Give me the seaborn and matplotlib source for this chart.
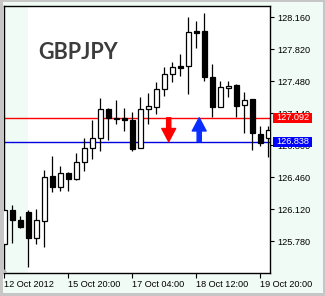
import numpy as np
import pandas as pd
import matplotlib
matplotlib.use("Agg")
import matplotlib.pyplot as plt
from matplotlib.patches import Rectangle, Polygon
import seaborn as sns

# ---- data (4h candles, GBPJPY) ----
opens = [125.751, 126.112, 126.006, 126.091, 125.811, 125.999, 126.473, 126.360, 126.505, 126.445,
         126.622, 126.768, 126.874, 127.185, 127.093, 127.093, 127.069, 126.768, 127.182, 127.207,
         127.395, 127.557, 127.642, 127.642, 128.014, 128.014, 127.522, 127.210, 127.405, 127.436,
         127.225, 127.289, 126.917, 126.879]
highs = [126.125, 126.165, 126.052, 126.112, 126.123, 126.537, 126.686, 126.580, 126.519, 126.715,
         126.874, 127.069, 127.299, 127.196, 127.281, 127.196, 127.150, 127.310, 127.356, 127.472,
         127.635, 127.688, 127.770, 128.160, 128.121, 128.206, 127.661, 127.483, 127.483, 127.454,
         127.361, 127.295, 127.000, 127.005]
lows = [125.740, 125.765, 125.924, 125.503, 125.751, 125.722, 126.307, 126.317, 126.317, 126.431,
        126.530, 126.654, 126.742, 126.856, 127.023, 126.952, 126.734, 126.766, 127.026, 127.132,
        127.324, 127.476, 127.533, 127.342, 127.831, 127.486, 127.097, 127.204, 127.316, 127.100,
        126.927, 126.750, 126.792, 126.675]
closes = [126.112, 126.006, 125.935, 125.818, 126.006, 126.460, 126.360, 126.502, 126.445, 126.622,
          126.768, 126.874, 127.182, 127.087, 127.079, 127.069, 126.760, 127.183, 127.212, 127.395,
          127.557, 127.629, 127.624, 128.001, 127.996, 127.529, 127.210, 127.416, 127.432, 127.221,
          127.278, 126.927, 126.821, 126.962]

symbol = "GBPJPY"
level_red = 127.092
level_blue = 126.838
y_ticks = [125.780, 126.120, 126.460, 126.800, 127.140, 127.480, 127.820, 128.160]
x_tick_pos = [0, 8, 16, 24, 32]
x_tick_labels = ["12 Oct 2012", "15 Oct 20:00", "17 Oct 04:00", "18 Oct 12:00", "19 Oct 20:00"]
arrow_down_x = 20.55
arrow_up_x = 24.36

df = pd.DataFrame({"i": np.arange(len(opens)), "open": opens, "high": highs,
                   "low": lows, "close": closes})

sns.set_style("white")
plt.rcParams["font.family"] = ["Liberation Sans", "DejaVu Sans"]

BG = "#f1fbf5"
fig = plt.figure(figsize=(3.25, 2.96), dpi=100, facecolor=BG)
W, H = 325.0, 296.0
ax = fig.add_axes([4 / W, 1 - 273.3 / H, 266 / W, 267.8 / H])
ax.set_facecolor("white")

xlim = (-0.0375, 33.21)
ylim = (125.4395, 128.285)

# weekend shaded strip on the left
ax.axvspan(xlim[0], 2.925, color=BG, lw=0, zorder=0)

# horizontal levels (seaborn lines)
lv = pd.DataFrame({"x": [xlim[0], xlim[1]] * 2,
                   "y": [level_red, level_red, level_blue, level_blue],
                   "lvl": ["r", "r", "b", "b"]})
sns.lineplot(data=lv, x="x", y="y", hue="lvl", palette={"r": "#ff0000", "b": "#0000e0"},
             ax=ax, legend=False, lw=1.0, zorder=1)

# candles
up = df["close"] >= df["open"]
ax.vlines(df["i"], df["low"], df["high"], color="black", lw=0.9, zorder=2)
bot = np.minimum(df["open"], df["close"])
hgt = np.maximum(np.abs(df["close"] - df["open"]), 0.012)
ax.bar(df["i"][up], hgt[up], bottom=bot[up], width=0.6, facecolor="white",
       edgecolor="black", lw=0.9, zorder=3)
ax.bar(df["i"][~up], hgt[~up], bottom=bot[~up], width=0.6, facecolor="black",
       edgecolor="black", lw=0.9, zorder=3)

# arrows
ax.annotate("", xy=(arrow_down_x, level_blue), xytext=(arrow_down_x, level_red),
            arrowprops=dict(arrowstyle="simple,head_length=0.95,head_width=1.0,tail_width=0.3",
                            color="#ff0000", shrinkA=0, shrinkB=0, mutation_scale=10), zorder=5)
ax.annotate("", xy=(arrow_up_x, level_red), xytext=(arrow_up_x, level_blue),
            arrowprops=dict(arrowstyle="simple,head_length=0.95,head_width=1.0,tail_width=0.3",
                            color="#0a2eff", shrinkA=0, shrinkB=0, mutation_scale=10), zorder=5)

ax.set_xlim(*xlim)
ax.set_ylim(*ylim)

# axes styling
for s in ax.spines.values():
    s.set_color("black")
    s.set_linewidth(1.0)
ax.yaxis.tick_right()
ax.set_yticks(y_ticks)
ax.set_yticklabels([f"{v:.3f}" for v in y_ticks])
ax.set_xticks(x_tick_pos)
ax.set_xticklabels(x_tick_labels, ha="left")
ax.tick_params(axis="y", which="both", direction="out", length=3, width=0.8, pad=2,
               labelsize=6.6, colors="black", right=True, left=False)
ax.tick_params(axis="x", which="both", direction="out", length=3.5, width=0.8, pad=1.5,
               labelsize=6.6, colors="black", bottom=True)
ax.set_xlabel("")
ax.set_ylabel("")

# symbol text
ax.text(0.128, 0.826, symbol, transform=ax.transAxes, ha="left", va="center",
        fontsize=15.5, fontfamily=["Lato", "DejaVu Sans"], fontweight="bold", color="#3c3c3c")

# price labels on the right axis
ytr = ax.get_yaxis_transform()
box_h = 10 / 94.1
for lvl, col in [(level_red, "#ff0000"), (level_blue, "#0000ff")]:
    ax.add_patch(Rectangle((1.0101, lvl - box_h / 2), 0.149, box_h, transform=ytr,
                           facecolor=col, edgecolor="none", clip_on=False, zorder=10))
    ax.text(1.0846, lvl, f"{lvl:.3f}", transform=ytr, ha="center", va="center",
            fontsize=6.6, color="white", clip_on=False, zorder=11)

# small shift marker in the bottom-left corner
ax.add_patch(Polygon([(xlim[0], ylim[0]), (xlim[0], ylim[0] + 0.045), (xlim[0] + 0.55, ylim[0])],
                     closed=True, facecolor="#b8b8b8", edgecolor="none", zorder=4))

# window frame
frame = "#c6c6c6"
for (x0, y0, w, h) in [(0, 0, 3, H), (W - 2, 0, 2, H), (0, 0, W, 3), (0, H - 2, W, 2)]:
    fig.patches.append(Rectangle((x0 / W, y0 / H), w / W, h / H, transform=fig.transFigure,
                                 facecolor=frame, edgecolor="none", zorder=20))

fig.savefig("out.png", dpi=100, facecolor=BG)
